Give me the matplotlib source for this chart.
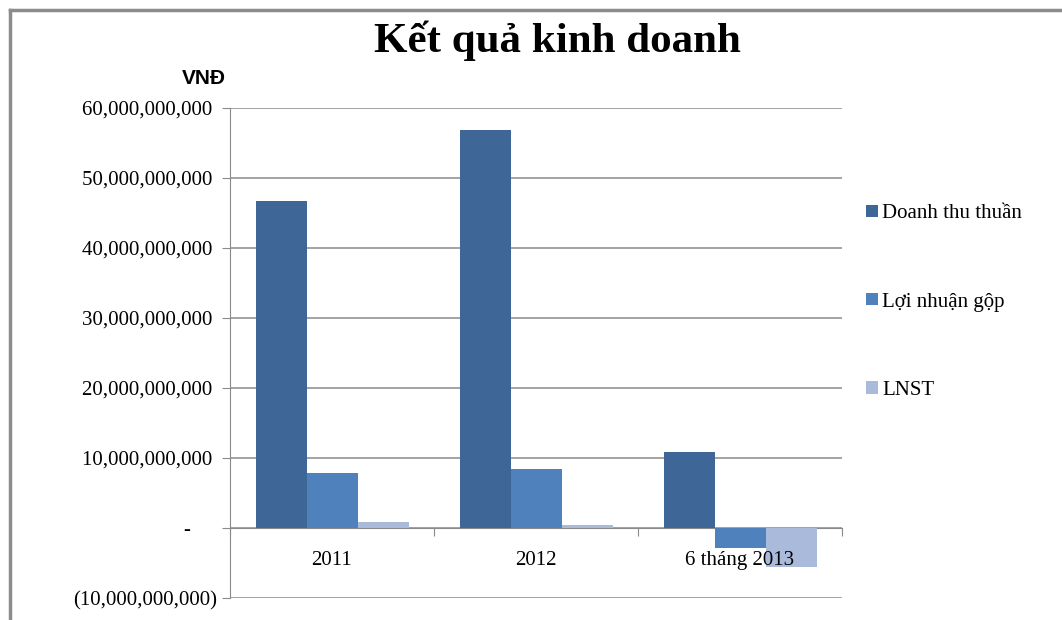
import numpy as np
import matplotlib.pyplot as plt
from matplotlib.lines import Line2D
from matplotlib.patches import Patch
from matplotlib.ticker import FuncFormatter
from matplotlib.transforms import blended_transform_factory

categories = ["2011", "2012", "6 tháng 2013"]
series_names = ["Doanh thu thuần", "Lợi nhuận gộp", "LNST"]
doanh_thu = [46.7e9, 56.8e9, 10.9e9]
loi_nhuan_gop = [7.8e9, 8.4e9, -2.85e9]
lnst = [0.9e9, 0.47e9, -5.5e9]
y_ticks = [-10e9, 0, 10e9, 20e9, 30e9, 40e9, 50e9, 60e9]

COLORS = ["#3e6797", "#4f81bd", "#a9badb"]
GRID = "#8a8a8a"
SERIF = ["Liberation Serif", "DejaVu Serif"]


def fmt_vnd(value, pos):
    if abs(value) < 1:
        return "-     "
    if value < 0:
        return f"({abs(value):,.0f})"
    return f"{value:,.0f} "


def main():
    plt.rcParams["font.family"] = SERIF

    fig = plt.figure(figsize=(10.62, 6.2), dpi=100)
    ax = fig.add_axes([230 / 1062, 1 - 598 / 620, 612 / 1062, 490 / 620])

    x = np.arange(len(categories))
    width = 0.25
    series = [doanh_thu, loi_nhuan_gop, lnst]
    for i, values in enumerate(series):
        ax.bar(
            x + (i - 1) * width,
            values,
            width=width,
            color=COLORS[i],
            edgecolor="none",
            zorder=3,
        )

    ax.set_xlim(-0.5, len(categories) - 0.5)
    ax.set_ylim(y_ticks[0], y_ticks[-1])
    ax.set_yticks(y_ticks)
    ax.yaxis.set_major_formatter(FuncFormatter(fmt_vnd))
    ax.grid(axis="y", color=GRID, linewidth=1.1, zorder=0)

    for side in ["top", "right"]:
        ax.spines[side].set_visible(False)
    ax.spines["left"].set_color(GRID)
    ax.spines["bottom"].set_color(GRID)
    ax.spines["bottom"].set_position(("data", 0))

    # category labels drawn on top of the bars, like the original
    ax.set_xticks(np.arange(len(categories) + 1) - 0.5)
    ax.set_xticklabels([])
    ax.tick_params(axis="x", length=6, color=GRID, direction="out")
    ax.tick_params(axis="y", length=6, color=GRID, pad=3, labelsize=15)

    trans = blended_transform_factory(ax.transData, ax.transData)
    for xi, label in zip(x, categories):
        ax.annotate(
            label,
            xy=(xi, 0),
            xytext=(0, -30),
            textcoords="offset points",
            ha="center",
            va="bottom",
            fontsize=15,
            zorder=6,
        )

    fig.text(
        0.525, 1 - 41 / 620, "Kết quả kinh doanh",
        ha="center", va="center", fontsize=31, fontweight="bold",
        family=SERIF,
    )
    fig.text(
        204 / 1062, 1 - 78 / 620, "VNĐ",
        ha="center", va="center", fontsize=15, fontweight="bold",
        family=["Liberation Sans Narrow", "Liberation Sans", "DejaVu Sans"],
    )

    handles = [Patch(facecolor=c, edgecolor="none") for c in COLORS]
    fig.legend(
        handles,
        series_names,
        loc="upper left",
        bbox_to_anchor=(858 / 1062, 1 - 196 / 620),
        frameon=False,
        fontsize=15,
        labelspacing=3.32,
        handlelength=0.55,
        handleheight=0.55,
        handletextpad=0.2,
        borderaxespad=0,
    )

    fig.add_artist(Line2D([10 / 1062, 10 / 1062], [0, 1 - 10 / 620],
                          transform=fig.transFigure, color="#8c8c8c", linewidth=2.5))
    fig.add_artist(Line2D([10 / 1062, 1], [1 - 10 / 620, 1 - 10 / 620],
                          transform=fig.transFigure, color="#8c8c8c", linewidth=2.5))

    fig.savefig("out.png", dpi=100)
    plt.close(fig)


if __name__ == "__main__":
    main()
